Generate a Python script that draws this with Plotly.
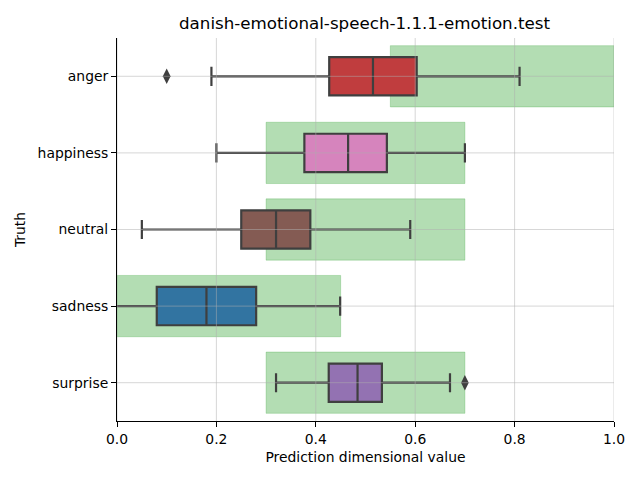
import plotly.graph_objects as go

categories = ["anger", "happiness", "neutral", "sadness", "surprise"]
lower_fence = [0.19, 0.20, 0.05, -0.02, 0.32]
q1 = [0.427, 0.377, 0.25, 0.08, 0.426]
median = [0.515, 0.465, 0.32, 0.18, 0.484]
q3 = [0.603, 0.543, 0.389, 0.28, 0.533]
upper_fence = [0.81, 0.70, 0.59, 0.449, 0.67]
outlier_cat = ["anger", "surprise"]
outlier_val = [0.10, 0.70]
range_low = [0.55, 0.3, 0.3, 0.0, 0.3]
range_high = [1.0, 0.7, 0.7, 0.45, 0.7]
colors = ["#c03d3e", "#d684bd", "#845b53", "#3274a1", "#9372b2"]
x_ticks = [0.0, 0.2, 0.4, 0.6, 0.8, 1.0]

edge = "#3f3f3f"
fig = go.Figure()
for i, c in enumerate(categories):
    fig.add_trace(go.Box(
        y=[i], orientation="h",
        q1=[q1[i]], median=[median[i]], q3=[q3[i]],
        lowerfence=[lower_fence[i]], upperfence=[upper_fence[i]],
        width=0.5, whiskerwidth=0.5, boxpoints=False,
        fillcolor=colors[i], line=dict(color=edge, width=2.2),
        showlegend=False, hoverinfo="skip",
    ))

fig.add_trace(go.Scatter(
    x=outlier_val, y=[categories.index(c) for c in outlier_cat], mode="markers",
    marker=dict(symbol="diamond-tall", size=11, color=edge),
    showlegend=False, hoverinfo="skip",
))

shapes = []
for i in range(len(categories)):
    shapes.append(dict(type="rect", xref="x", yref="y", x0=range_low[i], x1=range_high[i],
                       y0=i - 0.4, y1=i + 0.4, layer="below",
                       fillcolor="rgba(44,160,44,0.36)", line=dict(color="rgba(44,160,44,0.25)", width=1)))
grid = dict(color="rgba(176,176,176,0.5)", width=1)
for t in x_ticks:
    shapes.append(dict(type="line", xref="x", yref="paper", x0=t, x1=t, y0=0, y1=1, layer="above", line=grid))
for i in range(len(categories)):
    shapes.append(dict(type="line", xref="paper", yref="y", x0=0, x1=1, y0=i, y1=i, layer="above", line=grid))

font = "DejaVu Sans"
fig.update_layout(
    width=640, height=480,
    margin=dict(l=107, r=34, t=30, b=67),
    paper_bgcolor="white", plot_bgcolor="white",
    font=dict(family=font, size=13.9, color="black"),
    title=dict(text="danish-emotional-speech-1.1.1-emotion.test", x=(364.5 - 8) / 640, xanchor="center",
               y=1 - 15 / 480, yanchor="middle", font=dict(size=16.7, family=font)),
    shapes=shapes,
    xaxis=dict(range=[0, 1], tickvals=x_ticks, ticktext=[f"{t:.1f}" for t in x_ticks],
               showgrid=False, zeroline=False, showline=True, linecolor="black", linewidth=1,
               ticks="outside", ticklen=5, tickcolor="black",
               title=dict(text="Prediction dimensional value", font=dict(size=13.9), standoff=6)),
    yaxis=dict(range=[4.5, -0.5], tickvals=list(range(len(categories))), ticktext=categories,
               showgrid=False, zeroline=False, showline=True, linecolor="black", linewidth=1,
               ticks="outside", ticklen=5, tickcolor="black",
               title=dict(text="Truth", font=dict(size=13.9), standoff=8)),
)
fig.write_html("out.html")
